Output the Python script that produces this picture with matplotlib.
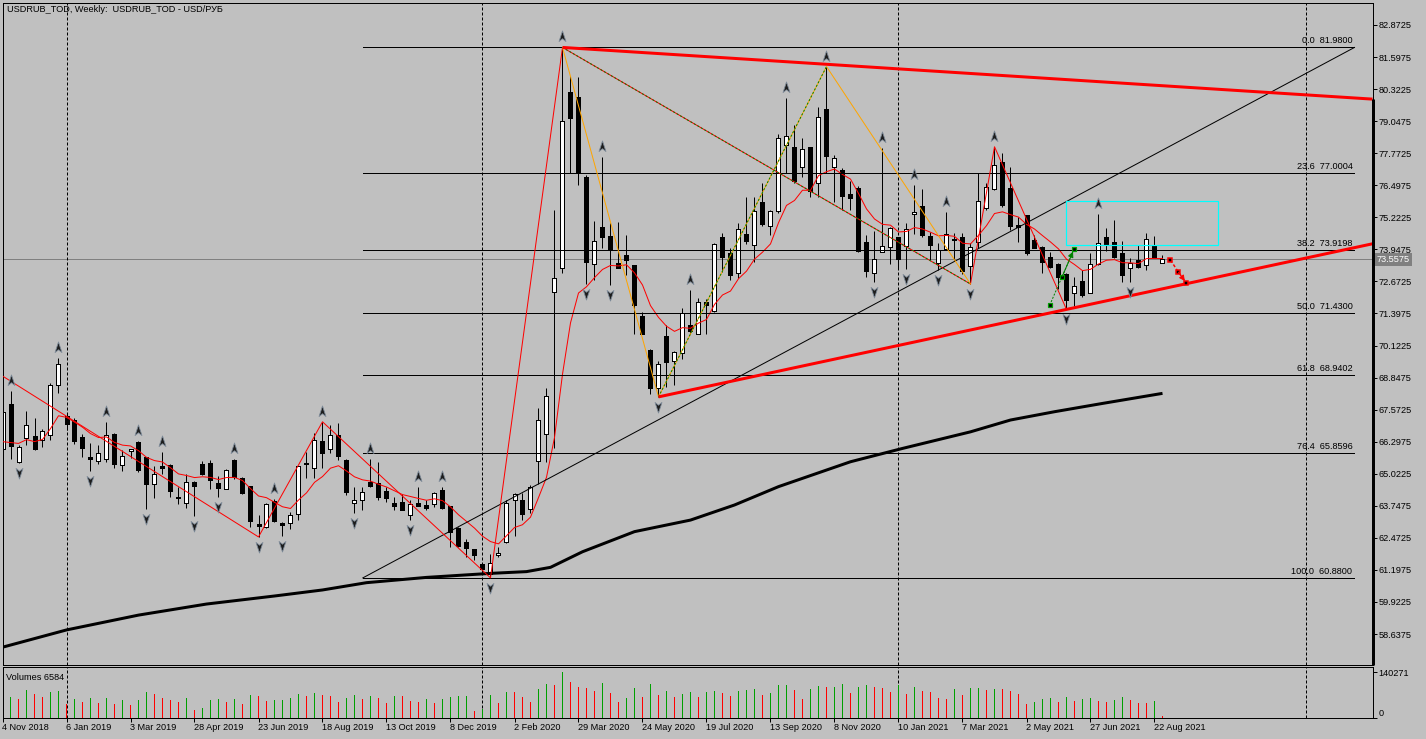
import numpy as np
import matplotlib
matplotlib.use("Agg")
import matplotlib.pyplot as plt
from matplotlib.path import Path
from matplotlib.transforms import offset_copy, blended_transform_factory
from matplotlib.patches import Rectangle

plt.rcParams['font.family'] = ['Liberation Sans', 'DejaVu Sans']
plt.rcParams['font.size'] = 6.6

# ---------------- data (weekly bars, index 0 = first visible week) ----------------
opens = [65.99, 67.79, 65.49, 66.46, 66.52, 66.36, 66.58, 68.57, 67.31, 67.15,
         66.47, 65.69, 65.53, 65.59, 66.62, 65.36, 65.91, 66.29, 65.67, 64.61,
         65.32, 65.39, 64.10, 63.86, 64.70, 65.43, 65.47, 64.67, 64.43, 65.56,
         64.86, 64.52, 63.02, 62.91, 63.93, 63.07, 63.08, 63.44, 65.46, 65.27,
         66.33, 65.99, 66.56, 65.56, 63.84, 63.97, 64.70, 64.67, 64.33, 63.84,
         63.88, 63.37, 63.84, 63.77, 63.81, 64.39, 63.73, 62.87, 62.31, 62.01,
         61.42, 61.05, 61.78, 62.31, 63.97, 63.97, 63.64, 65.53, 66.62, 72.24,
         73.22, 80.20, 80.00, 76.84, 73.35, 74.82, 74.48, 73.41, 73.72, 73.32,
         71.29, 69.94, 68.42, 70.51, 69.52, 69.81, 70.93, 70.60, 71.84, 71.51,
         74.42, 73.79, 72.99, 74.56, 74.12, 75.82, 74.87, 75.48, 78.10, 78.01,
         77.21, 78.01, 76.57, 79.52, 77.23, 77.10, 76.15, 76.38, 74.23, 72.99,
         73.85, 74.03, 74.43, 74.08, 75.35, 75.67, 74.48, 73.39, 73.95, 74.38,
         74.45, 73.29, 74.25, 75.58, 76.34, 77.43, 76.38, 74.90, 75.31, 74.32,
         74.03, 73.65, 73.36, 72.96, 72.20, 72.69, 72.22, 73.36, 74.42, 74.25,
         73.79, 73.19, 73.52, 73.32, 74.12, 73.41]
highs = [67.60, 68.32, 66.15, 67.52, 67.23, 66.82, 68.65, 69.61, 67.43, 67.26,
         66.62, 66.23, 66.15, 67.09, 66.65, 65.96, 66.00, 66.32, 65.70, 65.32,
         65.87, 65.40, 64.50, 65.03, 64.73, 65.53, 65.56, 64.92, 65.23, 65.59,
         64.89, 64.55, 63.37, 63.84, 64.00, 63.11, 63.50, 65.34, 65.89, 66.65,
         67.09, 66.98, 67.05, 65.60, 64.50, 64.50, 65.59, 65.49, 64.50, 64.10,
         64.20, 63.97, 64.48, 63.97, 64.30, 64.48, 63.74, 62.91, 62.41, 62.02,
         61.43, 61.82, 62.11, 63.97, 64.26, 64.26, 64.57, 67.62, 68.42, 75.51,
         81.98, 80.84, 80.82, 76.90, 75.07, 77.63, 74.98, 75.05, 74.52, 73.33,
         71.46, 69.97, 69.51, 70.93, 69.91, 71.60, 72.33, 72.00, 71.97, 74.21,
         74.61, 73.99, 74.98, 76.04, 76.04, 76.57, 75.51, 78.54, 79.96, 78.90,
         78.37, 78.02, 79.62, 81.22, 77.70, 77.17, 76.68, 76.47, 74.51, 74.69,
         77.97, 74.85, 74.44, 75.00, 76.51, 76.34, 74.65, 74.19, 75.44, 74.58,
         74.58, 74.21, 76.97, 76.57, 78.03, 77.77, 77.24, 75.24, 75.31, 74.52,
         74.08, 73.85, 73.39, 73.02, 72.86, 73.12, 73.79, 75.34, 74.78, 75.11,
         74.30, 73.59, 74.12, 74.58, 74.48, 73.72]
lows = [65.90, 65.59, 65.45, 66.16, 65.96, 66.09, 66.38, 68.22, 66.76, 66.20,
        65.69, 65.14, 65.40, 65.49, 65.27, 65.14, 65.63, 65.10, 63.64, 64.04,
        65.03, 64.10, 63.81, 63.68, 63.35, 64.99, 64.40, 64.10, 64.41, 64.83,
        64.21, 62.91, 62.51, 62.88, 63.11, 62.55, 62.84, 63.20, 64.87, 64.87,
        65.27, 65.85, 65.56, 64.17, 63.48, 63.60, 64.50, 63.97, 63.88, 63.57,
        63.57, 63.20, 63.73, 63.60, 63.70, 63.64, 62.11, 62.11, 61.71, 61.58,
        61.05, 60.88, 61.71, 62.27, 62.54, 63.17, 63.46, 64.63, 65.49, 66.03,
        73.00, 76.97, 76.51, 72.59, 72.73, 73.99, 72.53, 73.19, 72.92, 70.60,
        70.58, 68.19, 68.08, 68.48, 68.55, 69.57, 70.60, 70.58, 70.60, 71.46,
        73.06, 72.73, 72.79, 74.16, 73.45, 74.87, 74.52, 75.40, 76.97, 76.60,
        76.84, 76.04, 76.04, 76.97, 75.84, 75.51, 75.51, 73.85, 72.83, 72.66,
        73.85, 73.36, 73.19, 73.15, 74.56, 74.45, 73.52, 73.12, 73.92, 73.52,
        72.96, 72.57, 73.99, 75.51, 76.31, 75.62, 74.72, 74.25, 73.72, 73.99,
        72.99, 73.19, 72.39, 71.56, 71.69, 72.06, 72.20, 73.32, 73.89, 73.59,
        72.66, 72.64, 73.19, 73.12, 73.59, 73.39]
closes = [67.48, 66.12, 66.09, 66.98, 65.99, 66.72, 68.55, 69.37, 67.02, 66.33,
          66.05, 65.61, 65.83, 66.58, 65.40, 65.73, 66.00, 65.19, 64.61, 65.03,
          65.27, 64.34, 64.04, 64.70, 64.54, 65.03, 64.77, 64.46, 65.19, 64.90,
          64.26, 63.15, 62.96, 63.80, 63.15, 63.00, 63.37, 65.32, 65.40, 66.36,
          65.83, 66.58, 65.73, 64.30, 63.97, 64.30, 64.53, 64.10, 64.06, 63.73,
          63.60, 63.80, 63.74, 63.68, 64.26, 63.66, 62.71, 62.14, 62.05, 61.81,
          61.25, 61.47, 61.87, 63.84, 64.20, 63.44, 64.50, 67.18, 68.12, 72.79,
          79.05, 79.19, 76.97, 73.45, 74.28, 74.45, 73.95, 73.21, 73.52, 71.73,
          70.60, 68.42, 69.38, 69.48, 69.87, 71.42, 70.71, 71.84, 71.73, 74.16,
          73.63, 72.92, 74.74, 74.29, 75.47, 74.94, 75.48, 78.37, 78.46, 76.68,
          77.93, 76.27, 79.23, 77.66, 77.57, 76.07, 76.00, 73.89, 73.10, 73.55,
          74.09, 74.78, 73.56, 74.74, 75.44, 74.52, 74.12, 73.92, 74.56, 74.32,
          73.10, 74.05, 75.87, 76.44, 77.30, 75.71, 74.88, 74.85, 73.79, 74.01,
          73.45, 73.23, 72.86, 71.93, 72.49, 72.13, 73.36, 74.21, 74.12, 73.63,
          72.93, 73.39, 73.26, 74.38, 73.61, 73.5575]
# tick volume in thousands
volumes_k = [60, 64, 58, 85, 73, 64, 79, 82, 43, 58,
             49, 61, 46, 61, 43, 55, 40, 55, 79, 73,
             61, 55, 49, 61, 25, 31, 55, 58, 49, 58,
             43, 70, 67, 52, 53, 55, 61, 73, 67, 76,
             70, 67, 49, 61, 70, 58, 67, 61, 46, 67,
             66, 52, 49, 58, 46, 58, 64, 67, 68, 22,
             28, 70, 46, 79, 78, 64, 49, 88, 103, 100,
             140.271, 109, 94, 91, 82, 106, 76, 49, 61, 91,
             64, 103, 70, 82, 64, 73, 79, 64, 79, 82,
             76, 67, 82, 85, 88, 70, 76, 100, 101, 85,
             58, 88, 97, 94, 95, 103, 76, 94, 100, 94,
             91, 79, 100, 73, 94, 82, 79, 61, 58, 88,
             70, 91, 92, 85, 88, 87, 82, 73, 43, 49,
             58, 61, 49, 64, 52, 58, 61, 52, 49, 55,
             64, 55, 46, 45, 52, 6.584]

date_labels = ["4 Nov 2018", "6 Jan 2019", "3 Mar 2019", "28 Apr 2019", "23 Jun 2019",
               "18 Aug 2019", "13 Oct 2019", "8 Dec 2019", "2 Feb 2020", "29 Mar 2020",
               "24 May 2020", "19 Jul 2020", "13 Sep 2020", "8 Nov 2020", "10 Jan 2021",
               "7 Mar 2021", "2 May 2021", "27 Jun 2021", "22 Aug 2021"]
date_label_bars = list(range(0, 145, 8))
year_separator_bars = [8, 60, 112, 163]

price_tick_labels = ["82.8725", "81.5975", "80.3225", "79.0475", "77.7725", "76.4975",
                     "75.2225", "73.9475", "72.6725", "71.3975", "70.1225", "68.8475",
                     "67.5725", "66.2975", "65.0225", "63.7475", "62.4725", "61.1975",
                     "59.9225", "58.6375"]
current_price = 73.5575
volume_max_label = 140271

# moving averages
ema_period = 9
ema_start = 66.3
long_ma_bars = [-0.5, 8, 17, 25.5, 34, 40, 45.5, 53, 61, 65.5, 68.5, 72.5, 79, 86,
                91.5, 97, 106, 112.5, 121, 126, 131.5, 137.5, 145]
long_ma_vals = [58.08, 58.81, 59.40, 59.84, 60.16, 60.40, 60.69, 60.90, 61.06, 61.13,
                61.30, 61.92, 62.72, 63.18, 63.78, 64.51, 65.50, 66.03, 66.69, 67.16,
                67.49, 67.82, 68.22]

# zigzags
zz_red_bars = [-2, 32, 40, 61, 70, 121, 124, 133]
zz_red_vals = [69.31, 62.51, 67.09, 60.88, 81.98, 72.57, 78.03, 71.56]
zz_orange_bars = [70, 82, 103, 121]
zz_orange_vals = [81.98, 68.08, 81.22, 72.57]
green_overlay = [((70, 81.98), (121, 72.57)), ((82, 68.08), (103, 81.22))]

# thick trend lines (two anchors each, extended to the right edge)
trend_upper = [(70, 81.98), (103, 81.31)]
trend_lower = [(82, 68.08), (133, 71.56)]

# fibonacci retracement
fib_bar_start, fib_bar_end = 45.04, 169.0
fib_levels = ["0.0", "23.6", "38.2", "50.0", "61.8", "76.4", "100.0"]
fib_values = [81.98, 77.0004, 73.9198, 71.43, 68.9402, 65.8596, 60.88]

# rectangle, projection paths
rect_bars = (133, 152)
rect_vals = (74.11, 75.86)
green_path_bars = [130.9, 132.45, 133.95]
green_path_vals = [71.73, 72.86, 73.96]
red_path_bars = [146.0, 147.0, 148.0]
red_path_vals = [73.52, 73.04, 72.60]

fractal_up = [1, 7, 13, 17, 20, 29, 34, 40, 46, 52, 55, 70, 75, 86, 98, 103, 110, 114, 118, 124, 137]
fractal_down = [2, 11, 18, 24, 27, 32, 35, 44, 51, 61, 73, 76, 82, 109, 113, 117, 121, 133, 141]

# ---------------- figure ----------------
W, H, DPI = 1426, 739, 100
PX = 72.0 / DPI
BG = '#C0C0C0'
fig = plt.figure(figsize=(W / DPI, H / DPI), dpi=DPI, facecolor=BG)

left_px, right_px = 2.5, 1372.5
main_top, main_bot = 2.7, 665.0
vol_top, vol_bot = 666.7, 717.7
ax = fig.add_axes([left_px / W, 1 - main_bot / H, (right_px - left_px) / W, (main_bot - main_top) / H])
axv = fig.add_axes([left_px / W, 1 - vol_bot / H, (right_px - left_px) / W, (vol_bot - vol_top) / H])
for a in (ax, axv):
    a.set_facecolor(BG)
    for s in a.spines.values():
        s.set_color('black')
        s.set_linewidth(1 * PX)

x_right = (right_px - left_px) / 8.0
ax.set_xlim(0, x_right)
axv.set_xlim(0, x_right)
ax.set_ylim(57.4154, 83.7595)

n = len(closes)
xs = np.arange(n)
o = np.array(opens); h = np.array(highs); l = np.array(lows); c = np.array(closes)

# candles
ax.vlines(xs, l, h, color='black', lw=1 * PX, zorder=2)
body_lo = np.minimum(o, c)
body_h = np.maximum(np.abs(c - o), 0.04)
face = ['white' if cc >= oo else 'black' for oo, cc in zip(o, c)]
ax.bar(xs, body_h, bottom=body_lo, width=0.5, color=face, edgecolor='black',
       linewidth=1 * PX, zorder=2.5, antialiased=False)

# EMA (red thin)
ema = np.empty(n)
alpha = 2.0 / (ema_period + 1)
prev = ema_start
for i in range(n):
    prev = prev + alpha * (c[i] - prev) if i > 0 else ema_start
    ema[i] = prev
ax.plot(xs, ema, color='red', lw=1 * PX, zorder=3)

# long MA (thick black)
ax.plot(long_ma_bars, long_ma_vals, color='black', lw=3 * PX, zorder=3,
        solid_capstyle='butt')

# fib retracement
for lvl, val in zip(fib_levels, fib_values):
    ax.plot([fib_bar_start, fib_bar_end], [val, val], color='black', lw=1 * PX, zorder=4)
    ax.annotate(f"{lvl}  {val:.4f}", xy=(fib_bar_end - 0.25, val), xytext=(0, 1.5),
                textcoords='offset points', ha='right', va='bottom', fontsize=6.6, zorder=5)
ax.plot([fib_bar_start, fib_bar_end], [fib_values[-1], fib_values[0]], color='black',
        lw=1 * PX, zorder=4)

# current price line
ax.axhline(current_price, color='#808080', lw=1 * PX, zorder=1.5)

# year separators
for a in (ax, axv):
    for b in year_separator_bars:
        a.axvline(b, color='black', lw=1 * PX, ls=(0, (3, 2)), zorder=1.6)

# zigzags
ax.plot(zz_red_bars, zz_red_vals, color='red', lw=1 * PX, zorder=4)
ax.plot(zz_orange_bars, zz_orange_vals, color='#FFA500', lw=1 * PX, zorder=4)
for (p0, p1) in green_overlay:
    ax.plot([p0[0], p1[0]], [p0[1], p1[1]], color='#008000', lw=1 * PX,
            ls=(0, (2, 2)), zorder=4.2)

# thick trend lines
for (p0, p1) in (trend_upper, trend_lower):
    slope = (p1[1] - p0[1]) / (p1[0] - p0[0])
    ax.plot([p0[0], x_right], [p0[1], p0[1] + slope * (x_right - p0[0])],
            color='red', lw=3 * PX, zorder=4.5, solid_capstyle='butt')
# thick border piece at the right
slope_u = (trend_upper[1][1] - trend_upper[0][1]) / (trend_upper[1][0] - trend_upper[0][0])
y_edge = trend_upper[0][1] + slope_u * (x_right - trend_upper[0][0])
ax.plot([x_right + 0.06, x_right + 0.06], [57.4154, y_edge], color='black', lw=3 * PX,
        clip_on=False, zorder=6, solid_capstyle='butt')

# rectangle
ax.add_patch(Rectangle((rect_bars[0], rect_vals[0]), rect_bars[1] - rect_bars[0],
                       rect_vals[1] - rect_vals[0], fill=False, edgecolor='#00FFFF',
                       lw=1.2 * PX, zorder=4))

# projection paths
ax.plot(green_path_bars, green_path_vals, color='#008000', lw=1 * PX, ls=(0, (2, 1.5)),
        marker='s', ms=4.5 * PX, mfc='black', mec='#00A000', mew=1.2 * PX, zorder=5)
ax.annotate('', xy=(green_path_bars[2], green_path_vals[2]),
            xytext=(green_path_bars[1], green_path_vals[1]),
            arrowprops=dict(arrowstyle='-|>,head_length=0.5,head_width=0.25', color='#008000',
                            lw=1 * PX, shrinkA=0, shrinkB=2), zorder=5)
ax.plot(red_path_bars, red_path_vals, color='red', lw=1.5 * PX, ls=(0, (2, 1.5)),
        marker='s', ms=4.5 * PX, mfc='black', mec='red', mew=1.5 * PX, zorder=5)
ax.annotate('', xy=(red_path_bars[2], red_path_vals[2]),
            xytext=(red_path_bars[1], red_path_vals[1]),
            arrowprops=dict(arrowstyle='-|>,head_length=0.5,head_width=0.25', color='red',
                            lw=1 * PX, shrinkA=0, shrinkB=2), zorder=5)

# fractal arrows
up_marker = Path([(0, 1), (0.62, -0.9), (0, -0.4), (-0.62, -0.9), (0, 1)],
                 [Path.MOVETO, Path.LINETO, Path.LINETO, Path.LINETO, Path.CLOSEPOLY])
down_marker = Path([(0, -1), (0.62, 0.9), (0, 0.4), (-0.62, 0.9), (0, -1)],
                   [Path.MOVETO, Path.LINETO, Path.LINETO, Path.LINETO, Path.CLOSEPOLY])
tr_up = offset_copy(ax.transData, fig=fig, x=0, y=11 * PX, units='points')
tr_dn = offset_copy(ax.transData, fig=fig, x=0, y=-10 * PX, units='points')
ax.plot(fractal_up, h[fractal_up], ls='none', marker=up_marker, ms=8, mfc='#1c1c1c',
        mec='#7d8a98', mew=0.6, transform=tr_up, zorder=5)
ax.plot(fractal_down, l[fractal_down], ls='none', marker=down_marker, ms=8, mfc='#1c1c1c',
        mec='#7d8a98', mew=0.6, transform=tr_dn, zorder=5)

# price axis
price_ticks = [float(t) for t in price_tick_labels]
ax.yaxis.tick_right()
ax.set_yticks(price_ticks)
ax.set_yticklabels(price_tick_labels)
ax.tick_params(axis='y', direction='out', length=4 * PX, width=1 * PX, pad=1.2,
               labelsize=6.6, colors='black')
ax.tick_params(axis='x', length=0, labelbottom=False)
ax.annotate(f"{current_price:.4f}", xy=(1.0, current_price),
            xycoords=blended_transform_factory(ax.transAxes, ax.transData),
            xytext=(4.5 * PX, 0), textcoords='offset points', ha='left', va='center',
            color='white', fontsize=6.6, zorder=10, annotation_clip=False,
            bbox=dict(boxstyle='square,pad=0.22', fc='#808080', ec='none'))

# title
fig.text(7 / W, 1 - 10 / H, "USDRUB_TOD, Weekly:  USDRUB_TOD - USD/РУБ", ha='left',
         va='center', fontsize=6.6)

# volumes (1-pixel wide bars, green when higher than previous week, red otherwise)
vols = np.array(volumes_k) * 1000.0
vcol = ['#00A000' if (i > 0 and vols[i] > vols[i - 1]) or i == 0 else '#FF0000'
        for i in range(n)]
axv.bar(xs, vols, width=1.0 / 8, color=vcol, linewidth=0, antialiased=False, zorder=3)
axv.set_ylim(0, volume_max_label * (vol_bot - vol_top) / (vol_bot - 672.0))
axv.yaxis.tick_right()
axv.set_yticks([0, volume_max_label])
axv.set_yticklabels(["0", str(volume_max_label)])
axv.tick_params(axis='y', direction='out', length=4 * PX, width=1 * PX, pad=1.2,
                labelsize=6.6)
labs = axv.get_yticklabels()
labs[0].set_va('bottom')
axv.set_xticks(date_label_bars)
axv.set_xticklabels(date_labels)
axv.tick_params(axis='x', direction='out', length=4 * PX, width=1 * PX, pad=0.8,
                labelsize=6.6)
for t in axv.get_xticklabels():
    t.set_ha('left')
axv.text(3.5 / (right_px - left_px), 1 - (677 - vol_top) / (vol_bot - vol_top),
         f"Volumes {int(round(vols[-1]))}", transform=axv.transAxes, ha='left', va='center',
         fontsize=6.6)

fig.savefig('out.png', dpi=DPI, facecolor=BG)
